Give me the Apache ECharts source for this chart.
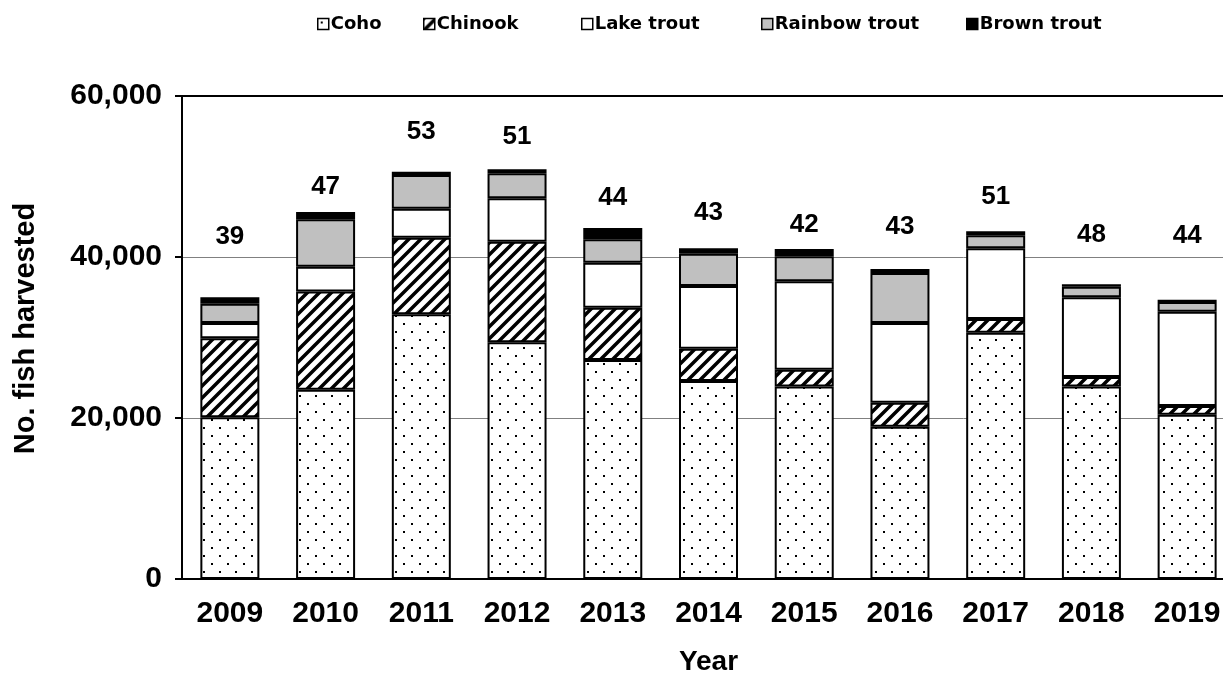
<!DOCTYPE html>
<html>
<head>
<meta charset="utf-8">
<script src="https://cdn.jsdelivr.net/npm/echarts@6.0.0/dist/echarts.min.js"></script>
<style>
  html, body { margin: 0; padding: 0; background: #fff; }
  #chart { width: 1223px; height: 677px; }
</style>
</head>
<body>
<div id="chart"></div>
<script>
// fish harvested per year, by species
const years = ['2009', '2010', '2011', '2012', '2013', '2014', '2015', '2016', '2017', '2018', '2019']
const coho = [20100, 23500, 32900, 29400, 27200, 24600, 23900, 18900, 30600, 23900, 20400]
const chinook = [9800, 12200, 9500, 12500, 6500, 4000, 2100, 3000, 1700, 1200, 1100]
const lakeTrout = [1900, 3100, 3600, 5400, 5600, 7800, 11000, 9900, 8800, 9900, 11700]
const rainbowTrout = [2400, 5900, 4200, 3100, 2900, 4000, 3100, 6200, 1600, 1300, 1200]
const brownTrout = [800, 900, 400, 500, 1400, 700, 900, 500, 500, 300, 300]
// numbers printed above the bars and the height they sit at
const counts = [39, 47, 53, 51, 44, 43, 42, 43, 51, 48, 44]
const countAt = [42500, 48700, 55500, 54900, 47300, 45500, 44000, 43700, 47500, 42700, 42600]

const species = ['Coho', 'Chinook', 'Lake trout', 'Rainbow trout', 'Brown trout']
const font = 'Liberation Sans, Arial, sans-serif'

function dotPattern () {
  const c = document.createElement('canvas')
  c.width = 16
  c.height = 16
  const ctx = c.getContext('2d')
  ctx.fillStyle = '#fff'
  ctx.fillRect(0, 0, 16, 16)
  ctx.fillStyle = '#000'
  ctx.fillRect(3, 3, 2, 2)
  ctx.fillRect(11, 11, 2, 2)
  return c
}

function hatchPattern () {
  const c = document.createElement('canvas')
  c.width = 12
  c.height = 12
  const ctx = c.getContext('2d')
  ctx.fillStyle = '#fff'
  ctx.fillRect(0, 0, 12, 12)
  ctx.strokeStyle = '#000'
  ctx.lineWidth = 3.5
  ctx.beginPath()
  ctx.moveTo(-6, 6); ctx.lineTo(6, -6)
  ctx.moveTo(-2, 14); ctx.lineTo(14, -2)
  ctx.moveTo(6, 18); ctx.lineTo(18, 6)
  ctx.stroke()
  return c
}

function barSeries (name, data, color) {
  return {
    name: name,
    type: 'bar',
    stack: 'fish',
    barWidth: 59,
    data: data,
    itemStyle: { color: color, borderColor: '#000', borderWidth: 2 },
    emphasis: { disabled: true }
  }
}

// one legend box per species, spaced like the original
const legendLeft = [312, 418, 576, 756, 961]
const legends = species.map((name, i) => ({
  data: [name],
  top: 10,
  left: legendLeft[i],
  icon: 'rect',
  itemWidth: 11,
  itemHeight: 11,
  itemStyle: { borderWidth: 1.5 },
  selectedMode: false,
  textStyle: { fontFamily: 'DejaVu Sans', fontSize: 18, fontWeight: 'bold', color: '#000', padding: [0, 0, 0, -3] }
}))

const chart = echarts.init(document.getElementById('chart'), null, { renderer: 'canvas' })

const option = {
  animation: false,
  textStyle: { fontFamily: font },
  legend: legends,
  grid: { left: 182, top: 96, width: 1053, height: 483, outerBoundsMode: 'none', containLabel: false },
  xAxis: [
    {
      type: 'category',
      data: years,
      name: 'Year',
      nameLocation: 'middle',
      nameGap: 69,
      nameTextStyle: { fontFamily: font, fontSize: 28, fontWeight: 'bold', color: '#000' },
      axisLine: { lineStyle: { color: '#000', width: 2 } },
      axisTick: { length: 7, lineStyle: { color: '#000', width: 2 } },
      axisLabel: { fontFamily: font, fontSize: 30, fontWeight: 'bold', color: '#000', margin: 20 }
    },
    {
      type: 'category',
      data: years,
      position: 'top',
      axisLine: { lineStyle: { color: '#000', width: 2 } },
      axisTick: { show: false },
      axisLabel: { show: false }
    }
  ],
  yAxis: {
    type: 'value',
    min: 0,
    max: 60000,
    interval: 20000,
    name: 'No. fish harvested',
    nameLocation: 'middle',
    nameGap: 142,
    nameTextStyle: { fontFamily: font, fontSize: 29, fontWeight: 'bold', color: '#000', padding: [0, 0, 0, 18] },
    axisLine: { show: true, lineStyle: { color: '#000', width: 2 } },
    axisTick: { show: true, length: 7, lineStyle: { color: '#000', width: 2 } },
    axisLabel: {
      fontFamily: font, fontSize: 30, fontWeight: 'bold', color: '#000', margin: 20,
      formatter: v => v.toLocaleString('en-US')
    },
    splitLine: { lineStyle: { color: '#808080', width: 1 } }
  },
  series: [
    barSeries('Coho', coho, { image: dotPattern(), repeat: 'repeat' }),
    barSeries('Chinook', chinook, { image: hatchPattern(), repeat: 'repeat' }),
    barSeries('Lake trout', lakeTrout, '#fff'),
    barSeries('Rainbow trout', rainbowTrout, '#c0c0c0'),
    barSeries('Brown trout', brownTrout, '#000'),
    {
      name: 'counts',
      type: 'scatter',
      data: countAt,
      symbolSize: 0,
      silent: true,
      itemStyle: { color: '#000', opacity: 1 },
      label: {
        show: true,
        position: 'inside',
        formatter: p => String(counts[p.dataIndex]),
        fontFamily: font,
        fontSize: 26,
        fontWeight: 'bold',
        color: '#000',
        opacity: 1
      }
    }
  ]
}

chart.setOption(option)
</script>
</body>
</html>
